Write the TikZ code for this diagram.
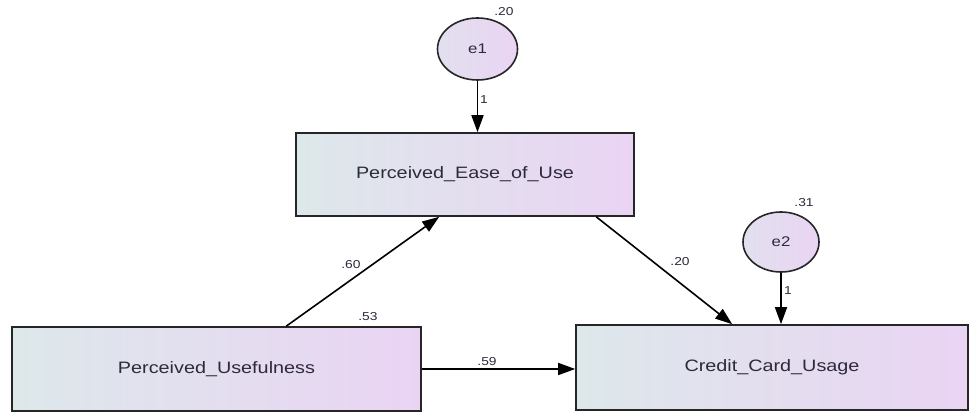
\documentclass[tikz,border=0pt]{standalone}
\usepackage{fontspec}
\setmainfont{Liberation Sans}[FakeStretch=1.2]
\usetikzlibrary{arrows.meta,shapes.geometric}
\definecolor{txt}{RGB}{45,42,58}
\definecolor{gl}{RGB}{221,232,234}
\definecolor{gr}{RGB}{234,212,244}
\begin{document}
\begin{tikzpicture}[x=1pt,y=-1pt,
  var/.style={draw=black!85, line width=1.6pt, left color=gl, right color=gr, shading angle=90,
    font=\fontsize{16.5}{18}\selectfont, text=txt, inner sep=0pt},
  err/.style={ellipse, draw=black!85, line width=1.6pt, left color=gl!60!gr, right color=gr, inner sep=0pt,
    font=\fontsize{14}{16}\selectfont, text=txt},
  lbl/.style={font=\fontsize{11.5}{13}\selectfont, text=txt, inner sep=0pt},
  arr/.style={line width=1.6pt, -{Triangle[length=17pt,width=12pt]}}]
\fill[white] (0,0) rectangle (972,414);
\useasboundingbox (0,0) rectangle (972,414);
\node[var, minimum width=338pt, minimum height=83pt] (peou) at (465,174.5) {Perceived\_Ease\_of\_Use};
\node[var, minimum width=409pt, minimum height=84pt] (pu) at (216.5,369) {Perceived\_Usefulness};
\node[var, minimum width=392pt, minimum height=85pt] (ccu) at (772,367.5) {Credit\_Card\_Usage};
\node[err, minimum width=80pt, minimum height=62pt] (e1) at (477.5,49) {e1};
\node[err, minimum width=76pt, minimum height=60pt] (e2) at (781,242) {e2};
\draw[arr] (e1.south) -- (e1.south |- peou.north);
\draw[arr] (e2.south) -- (e2.south |- ccu.north);
\draw[arr] ([xshift=275pt]pu.north west) -- ([xshift=144pt]peou.south west);
\draw[arr] ([xshift=301pt]peou.south west) -- ([xshift=157pt]ccu.north west);
\draw[arr] (pu.east) -- (pu.east -| ccu.west);
\node[lbl] (l1) at (504,12) {.20};
\node[lbl] (l2) at (804,203) {.31};
\node[lbl] (l3) at (484,100) {1};
\node[lbl] (l4) at (788,291) {1};
\node[lbl] (l5) at (351,265) {.60};
\node[lbl] (l6) at (680,262) {.20};
\node[lbl] (l7) at (487,362) {.59};
\node[lbl] (l8) at (368,317) {.53};
\end{tikzpicture}
\end{document}
